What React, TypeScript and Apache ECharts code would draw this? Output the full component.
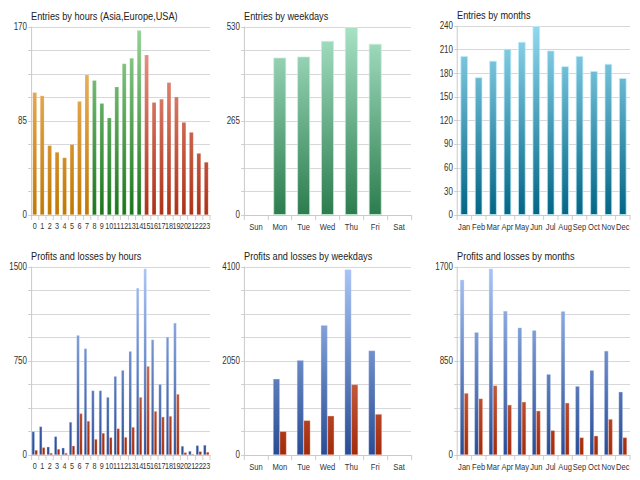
import { useEffect, useRef } from "react";
import * as echarts from "echarts";

const hours = ["0", "1", "2", "3", "4", "5", "6", "7", "8", "9", "10", "11", "12", "13", "14", "15", "16", "17", "18", "19", "20", "21", "22", "23"];
const weekdays = ["Sun", "Mon", "Tue", "Wed", "Thu", "Fri", "Sat"];
const months = ["Jan", "Feb", "Mar", "Apr", "May", "Jun", "Jul", "Aug", "Sep", "Oct", "Nov", "Dec"];

const entriesByHour = [111, 108, 63, 57, 52, 64, 103, 127, 122, 101, 88, 116, 137, 142, 167, 145, 102, 105, 120, 107, 84, 75, 56, 48];
const entriesByWeekday = [null, 444, 447, 491, 530, 483, null];
const entriesByMonth = [202, 175, 196, 211, 220, 240, 209, 189, 202, 183, 192, 174];

const profitsByHour = [188, 228, 66, 149, 58, 263, 956, 850, 515, 515, 462, 629, 677, 828, 1333, 1487, 921, 565, 942, 1054, 72, 32, 77, 80];
const lossesByHour = [40, 61, 16, 48, 16, 74, 332, 271, 127, 175, 141, 212, 143, 223, 462, 709, 350, 305, 311, 486, 21, 8, 29, 24];
const profitsByWeekday = [null, 1662, 2068, 2830, 4049, 2279, null];
const lossesByWeekday = [null, 515, 755, 856, 1538, 893, null];
const profitsByMonth = [1585, 1110, 1685, 1303, 1152, 1128, 731, 1300, 623, 767, 942, 572];
const lossesByMonth = [560, 511, 629, 454, 481, 400, 223, 472, 159, 174, 325, 159];

const axisMax = [170, 530, 240, 1500, 4100, 1700];

const font = "'Liberation Sans', Arial, sans-serif";

// the chart is drawn wider and squeezed with CSS so the text looks condensed
const SQUEEZE = 0.8;
const sx = (v: number) => v / SQUEEZE;

// grid boxes in page px: [left, top, width, height]
const boxes = [
  [31, 27, 179, 188],
  [244, 27, 167, 188],
  [457, 26, 173, 189],
  [31, 267, 179, 188],
  [244, 267, 167, 188],
  [457, 267, 173, 188],
];

const titles = [
  "Entries by hours (Asia,Europe,USA)",
  "Entries by weekdays",
  "Entries by months",
  "Profits and losses by hours",
  "Profits and losses by weekdays",
  "Profits and losses by months",
];

function grad(i: number, c1: string, c2: string) {
  const [, top, , h] = boxes[i];
  return new echarts.graphic.LinearGradient(
    0, top, 0, top + h,
    [
      { offset: 0, color: c1 },
      { offset: 1, color: c2 },
    ],
    true
  );
}

export default function App() {
  const chartRef = useRef<HTMLDivElement>(null);

  useEffect(() => {
    if (!chartRef.current) return;
    document.body.style.margin = "0";
    const chart = echarts.init(chartRef.current, null, { renderer: "svg" });

    const cats = [hours, weekdays, months, hours, weekdays, months];

    const asia = grad(0, "#f4c07a", "#c27800");
    const europe = grad(0, "#94d494", "#1a761a");
    const usa = grad(0, "#eea090", "#ad3015");

    const hourData = entriesByHour.map((v, i) => ({
      value: v,
      itemStyle: {
        color: i < 8 ? asia : i < 15 ? europe : usa,
      },
    }));

    const blue = (i: number) => ({
      color: grad(i, "#aac6f6", "#284c94"),
      borderColor: "rgba(200,215,250,0.6)",
      borderWidth: 0.6,
    });
    const red = (i: number) => ({
      color: grad(i, "#f4a48a", "#a22a0a"),
      borderColor: "rgba(250,190,170,0.6)",
      borderWidth: 0.6,
    });

    const option = {
      animation: false,
      backgroundColor: "#fff",
      textStyle: { fontFamily: font },
      title: boxes.map((b, i) => ({
        text: titles[i],
        left: sx(b[0]),
        top: b[1] - 17,
        padding: 0,
        textStyle: {
          fontFamily: font,
          fontSize: 11.5,
          fontWeight: "normal",
          color: "#222",
        },
      })),
      grid: boxes.map((b) => ({
        left: sx(b[0]),
        top: b[1],
        width: sx(b[2]),
        height: b[3],
        containLabel: false,
      })),
      xAxis: boxes.map((_, i) => ({
        type: "category",
        gridIndex: i,
        data: cats[i],
        axisLine: { lineStyle: { color: "#c8c8c8" } },
        axisTick: { show: true, length: 5, lineStyle: { color: "#c8c8c8" } },
        axisLabel: {
          interval: 0,
          hideOverlap: false,
          color: "#333",
          fontSize: i % 3 === 0 ? 9 : 9.5,
          fontFamily: font,
          margin: 7,
        },
      })),
      yAxis: boxes.map((_, i) => ({
        type: "value",
        gridIndex: i,
        min: 0,
        max: axisMax[i],
        interval: axisMax[i] / 8,
        axisLine: { show: true, lineStyle: { color: "#c8c8c8", width: 1.2 } },
        axisTick: { show: true, length: 3.5, lineStyle: { color: "#c8c8c8" } },
        splitLine: { lineStyle: { color: "#d4d4d4" } },
        axisLabel: {
          color: "#333",
          fontSize: 10,
          fontFamily: font,
          margin: 5,
          formatter: (v: number) => {
            if (i === 2) return String(v);
            return v === 0 || v === axisMax[i] / 2 || v === axisMax[i] ? String(v) : "";
          },
        },
      })),
      series: [
        {
          type: "bar",
          xAxisIndex: 0,
          yAxisIndex: 0,
          data: hourData,
          barCategoryGap: "42%",
          itemStyle: { borderColor: "rgba(255,255,255,0.35)", borderWidth: 0.6 },
        },
        {
          type: "bar",
          xAxisIndex: 1,
          yAxisIndex: 1,
          data: entriesByWeekday,
          barCategoryGap: "46%",
          itemStyle: {
            color: grad(1, "#a8e2c6", "#2c7c4e"),
            borderColor: "rgba(200,240,215,0.8)",
            borderWidth: 1,
          },
        },
        {
          type: "bar",
          xAxisIndex: 2,
          yAxisIndex: 2,
          data: entriesByMonth,
          barCategoryGap: "48%",
          itemStyle: {
            color: grad(2, "#92d8ee", "#036585"),
            borderColor: "rgba(190,235,250,0.8)",
            borderWidth: 1,
          },
        },
        {
          type: "bar",
          name: "Profits",
          xAxisIndex: 3,
          yAxisIndex: 3,
          data: profitsByHour,
          barGap: "0%",
          barCategoryGap: "22%",
          itemStyle: blue(3),
        },
        {
          type: "bar",
          name: "Losses",
          xAxisIndex: 3,
          yAxisIndex: 3,
          data: lossesByHour,
          barGap: "0%",
          barCategoryGap: "22%",
          itemStyle: red(3),
        },
        {
          type: "bar",
          name: "Profits",
          xAxisIndex: 4,
          yAxisIndex: 4,
          data: profitsByWeekday,
          barGap: "0%",
          barCategoryGap: "44%",
          itemStyle: blue(4),
        },
        {
          type: "bar",
          name: "Losses",
          xAxisIndex: 4,
          yAxisIndex: 4,
          data: lossesByWeekday,
          barGap: "0%",
          barCategoryGap: "44%",
          itemStyle: red(4),
        },
        {
          type: "bar",
          name: "Profits",
          xAxisIndex: 5,
          yAxisIndex: 5,
          data: profitsByMonth,
          barGap: "0%",
          barCategoryGap: "42%",
          itemStyle: blue(5),
        },
        {
          type: "bar",
          name: "Losses",
          xAxisIndex: 5,
          yAxisIndex: 5,
          data: lossesByMonth,
          barGap: "0%",
          barCategoryGap: "42%",
          itemStyle: red(5),
        },
      ],
    };

    chart.setOption(option as any);

    return () => {
      chart.dispose();
    };
  }, []);

  return (
    <div style={{ width: "640px", height: "480px", overflow: "hidden" }}>
      <div
        ref={chartRef}
        style={{
          width: `${sx(640)}px`,
          height: "480px",
          transform: `scaleX(${SQUEEZE})`,
          transformOrigin: "0 0",
        }}
      ></div>
    </div>
  );
}
